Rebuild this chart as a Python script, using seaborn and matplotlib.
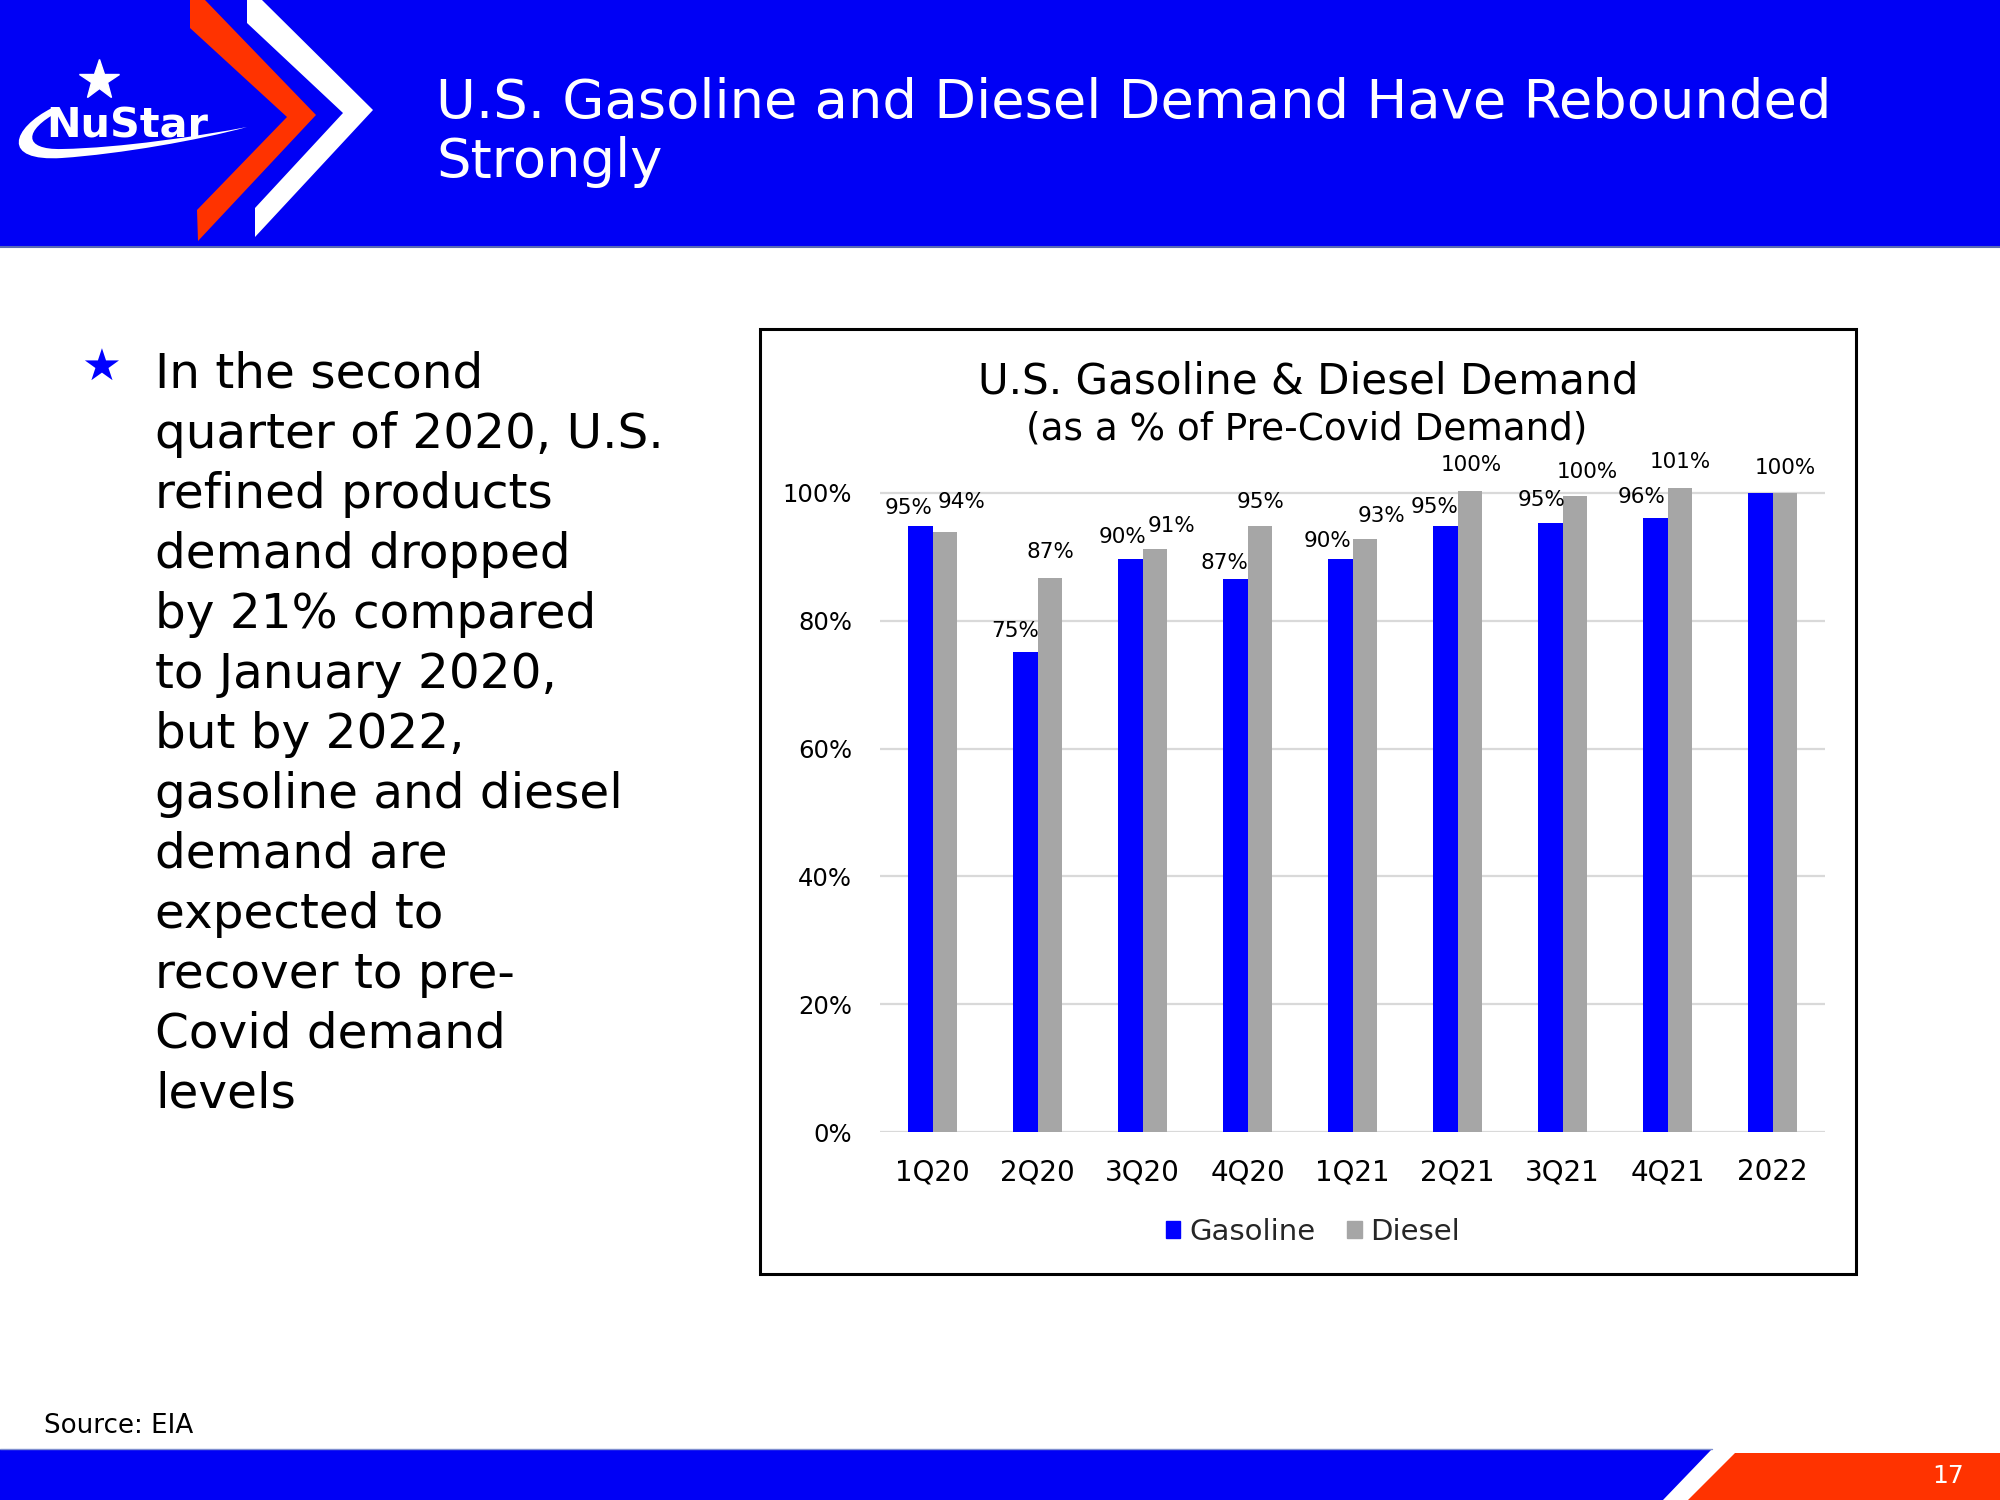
import numpy as np
import pandas as pd
import matplotlib
matplotlib.use("Agg")
import matplotlib.pyplot as plt
import seaborn as sns
from matplotlib.patches import Polygon, Rectangle, PathPatch
from matplotlib.path import Path
from matplotlib import font_manager

# ---------------- data ----------------
categories = ["1Q20", "2Q20", "3Q20", "4Q20", "1Q21", "2Q21", "3Q21", "4Q21", "2022"]
series_names = ["Gasoline", "Diesel"]
gasoline = [94.9, 75.1, 89.6, 86.6, 89.6, 94.8, 95.3, 96.1, 100.0]
diesel = [93.9, 86.7, 91.2, 94.9, 92.8, 100.3, 99.6, 100.8, 100.0]
ytick_values = [0, 20, 40, 60, 80, 100]
show_gas_label = [True, True, True, True, True, True, True, True, False]

slide_title = ["U.S. Gasoline and Diesel Demand Have Rebounded", "Strongly"]
chart_title = ["U.S. Gasoline & Diesel Demand", "(as a % of Pre-Covid Demand)"]
bullet_lines = ["In the second", "quarter of 2020, U.S.", "refined products",
                "demand dropped", "by 21% compared", "to January 2020,",
                "but by 2022,", "gasoline and diesel", "demand are",
                "expected to", "recover to pre-", "Covid demand", "levels"]
source_text = "Source: EIA"
page_number = "17"

df = pd.DataFrame({
    "Period": categories * 2,
    "Fuel": [series_names[0]] * len(categories) + [series_names[1]] * len(categories),
    "Demand": gasoline + diesel,
})

# ---------------- style ----------------
BLUE = "#0000F5"
BAR_BLUE = "#0000FF"
GRAY = "#A6A6A6"
RED = "#FF3300"
GRID = "#D9D9D9"

sns.set_theme(style="white")
plt.rcParams["font.family"] = ["DejaVu Sans"]

avail = {f.name for f in font_manager.fontManager.ttflist}
logo_family = "Liberation Sans Narrow" if "Liberation Sans Narrow" in avail else "DejaVu Sans"

fig = plt.figure(figsize=(20, 15), dpi=100)
R = fig.canvas.get_renderer()

bg = fig.add_axes([0, 0, 1, 1])
bg.set_xlim(0, 2000)
bg.set_ylim(1500, 0)
bg.axis("off")


def fit_text(x, y, s, width, base=20, **kw):
    t = bg.text(x, y, s, fontsize=base, **kw)
    w = t.get_window_extent(renderer=R).width
    t.set_fontsize(base * width / w)
    return t


def size_for(s, width, base=20, **kw):
    t = bg.text(0, 0, s, fontsize=base, **kw)
    w = t.get_window_extent(renderer=R).width
    t.remove()
    return base * width / w


# header band
bg.add_patch(Rectangle((0, 0), 2000, 246, color=BLUE, lw=0, zorder=1))
bg.plot([0, 2000], [246.5, 246.5], color="#5A6BB5", lw=1.5, zorder=2)

# chevrons
bg.add_patch(Polygon([(190, 0), (205, 0), (316, 115), (198, 241), (197, 210), (287, 117), (190, 28)],
                     closed=True, color=RED, lw=0, zorder=2))
bg.add_patch(Polygon([(247, 0), (262, 0), (373, 110), (255, 237), (255, 208), (343, 113), (247, 23)],
                     closed=True, color="white", lw=0, zorder=2))

# NuStar logo
swoosh = Path([(52, 108), (12, 128), (0, 162), (62, 158), (120, 154), (200, 140), (247, 127),
               (200, 136), (120, 148), (62, 149), (22, 150), (24, 130), (58, 112), (52, 108)],
              [Path.MOVETO, Path.CURVE4, Path.CURVE4, Path.CURVE4, Path.CURVE4, Path.CURVE4, Path.CURVE4,
               Path.CURVE4, Path.CURVE4, Path.CURVE4, Path.CURVE4, Path.CURVE4, Path.CURVE4, Path.CLOSEPOLY])
bg.add_patch(PathPatch(swoosh, color="white", lw=0, zorder=3))
fit_text(46, 137, "NuStar", 162, family=logo_family, weight="bold", color="white",
         va="baseline", ha="left", zorder=4)
bg.plot([99], [80], marker="*", ms=30, color="white", mec="white", zorder=4)

# slide title
tsize = size_for(slide_title[0], 1394)
bg.text(436, 118, slide_title[0], fontsize=tsize, color="white", va="baseline", ha="left", zorder=4)
bg.text(436, 177, slide_title[1], fontsize=tsize, color="white", va="baseline", ha="left", zorder=4)

# bullet text
bsize = size_for("gasoline and diesel", 467)
bg.text(101, 368, "\u2605", fontsize=32, color=BAR_BLUE, ha="center", va="center")
for i, line in enumerate(bullet_lines):
    bg.text(155, 388 + 60 * i, line, fontsize=bsize, color="black", va="baseline", ha="left")

# source
fit_text(44, 1433, source_text, 149, color="black", va="baseline", ha="left")

# footer
bg.add_patch(Polygon([(0, 1449), (1712, 1449), (1663, 1500), (0, 1500)], closed=True, color=BLUE, lw=0))
bg.plot([0, 1712], [1449, 1449], color="#7F8FD0", lw=1)
bg.add_patch(Polygon([(1735, 1453), (2000, 1453), (2000, 1500), (1688, 1500)], closed=True, color=RED, lw=0))
bg.text(1948, 1476, page_number, fontsize=18, color="white", ha="center", va="center")

# chart frame
bg.add_patch(Rectangle((760, 329), 1096, 945, fill=False, edgecolor="black", lw=2.2, zorder=2))

# chart titles
fit_text(1308, 393, chart_title[0], 660, color="black", ha="center", va="baseline")
fit_text(1307, 440, chart_title[1], 561, color="black", ha="center", va="baseline")

# ---------------- bar chart ----------------
ax = fig.add_axes([880 / 2000, 1 - 1132 / 1500, 945 / 2000, (1132 - 461) / 1500])
ax.set_facecolor("none")
sns.barplot(data=df, x="Period", y="Demand", hue="Fuel", order=categories, hue_order=series_names,
            palette=[BAR_BLUE, GRAY], width=0.476, gap=0, saturation=1, linewidth=0,
            legend=False, errorbar=None, ax=ax, zorder=3)
ax.set_xlim(-0.5, len(categories) - 0.5)
ax.set_ylim(0, 105)
ax.set_yticks(ytick_values)
ax.set_yticklabels([f"{v}%" for v in ytick_values])
ax.yaxis.grid(True, color=GRID, lw=1.6, zorder=0)
ax.xaxis.grid(False)
ax.set_axisbelow(True)
for sp in ax.spines.values():
    sp.set_visible(False)
ax.tick_params(axis="y", length=0, pad=20, labelsize=17.5, labelcolor="black")
ax.tick_params(axis="x", length=0, pad=19, labelsize=20, labelcolor="black")
ax.set_xlabel("")
ax.set_ylabel("")

gas_offsets = [(-11, 18), (-10, 21), (-8, 22), (-11, 16), (-13, 18), (-10, 19), (-8, 23), (-13, 21), (0, 0)]
dsl_offsets = [(17, 30), (0, 26), (17, 23), (1, 24), (17, 23), (1, 26), (12, 24), (0, 26), (0, 25)]

gas_bars, dsl_bars = ax.containers[0], ax.containers[1]
for i, (bar, v) in enumerate(zip(gas_bars, gasoline)):
    if not show_gas_label[i]:
        continue
    ax.annotate(f"{v:.0f}%", (bar.get_x() + bar.get_width() / 2, bar.get_height()),
                xytext=gas_offsets[i], textcoords="offset pixels", ha="center", va="center",
                fontsize=15.5, color="black", annotation_clip=False)
for i, (bar, v) in enumerate(zip(dsl_bars, diesel)):
    ax.annotate(f"{v:.0f}%", (bar.get_x() + bar.get_width() / 2, bar.get_height()),
                xytext=dsl_offsets[i], textcoords="offset pixels", ha="center", va="center",
                fontsize=15.5, color="black", annotation_clip=False)

handles = [Rectangle((0, 0), 1, 1, color=BAR_BLUE), Rectangle((0, 0), 1, 1, color=GRAY)]
fig.legend(handles, series_names, loc="center", bbox_to_anchor=(1313 / 2000, 1 - 1232 / 1500),
           ncol=2, frameon=False, fontsize=21, handlelength=0.5, handleheight=0.55,
           handletextpad=0.3, columnspacing=1.1)

fig.savefig("out.png", dpi=100)
